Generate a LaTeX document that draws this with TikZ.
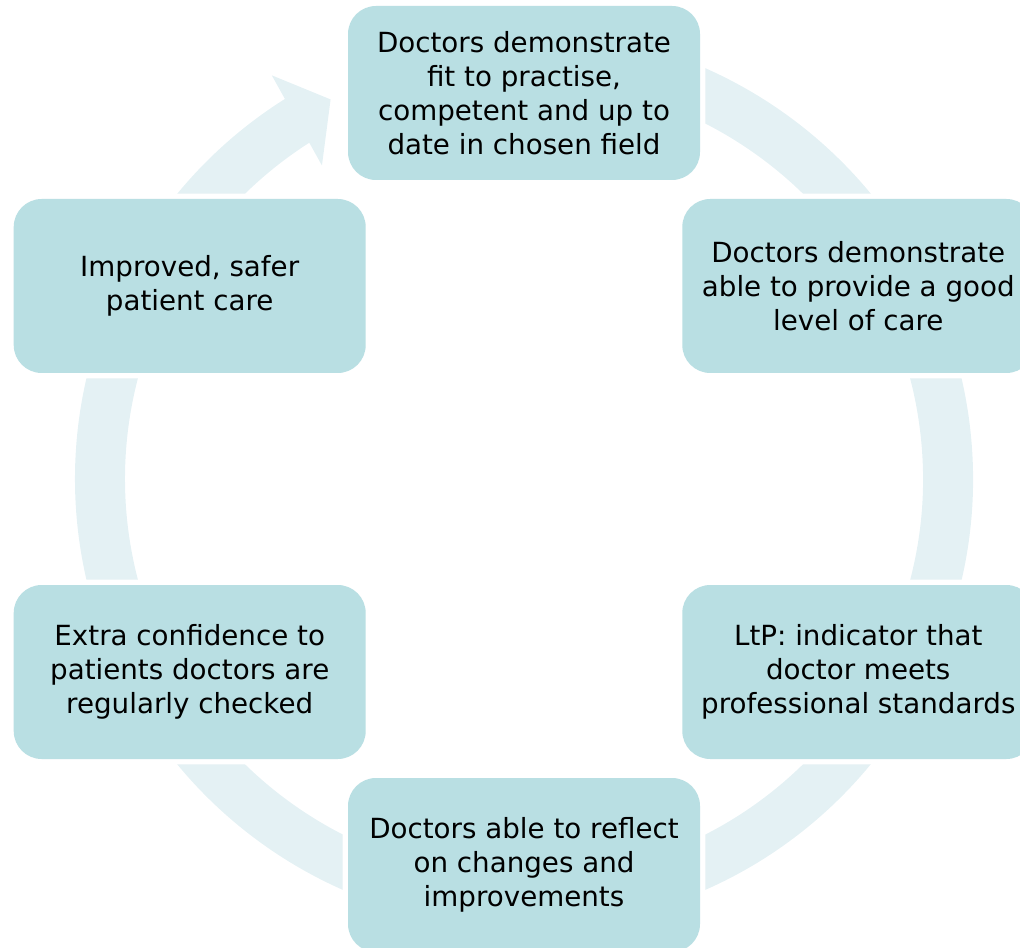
\documentclass[tikz,border=0pt]{standalone}
\usepackage{fontspec}
\setmainfont{DejaVu Sans}
\usetikzlibrary{calc}
\definecolor{Teal}{HTML}{B9DFE3}
\definecolor{Mist}{HTML}{E4F1F4}

\begin{document}
\begin{tikzpicture}[x=0.75pt,y=0.75pt,
  stage/.style={fill=Teal,rounded corners=21pt,minimum width=264pt,
                minimum height=130.5pt,inner sep=0pt,align=center,
                font=\fontsize{20.8}{25.5}\selectfont,
                preaction={draw=white,line width=8pt}},
  ring/.style={draw=Mist,line width=37.5pt}]
\useasboundingbox (0,0) rectangle (1020,947);
\clip (0,0) rectangle (1020,947);
\coordinate (c) at (524,468);
% cycle arrow running behind the stages
\draw[ring] ($(c)+(100:424)$) arc[start angle=100,end angle=-238.8,radius=424];
\fill[Mist] ($(c)+(122.8:373)$) -- ($(c)+(117:426)$) -- ($(c)+(122:476)$) -- cycle;
% the six stages, clockwise from the top
\node[stage] (fit) at ($(c)+(90:386)$)
  {Doctors demonstrate\\fit to practise,\\competent and up to\\date in chosen field};
\node[stage] (care) at ($(c)+(30:386)$)
  {Doctors demonstrate\\able to provide a good\\level of care};
\node[stage] (ltp) at ($(c)+(-30:386)$)
  {LtP: indicator that\\doctor meets\\professional standards};
\node[stage] (reflect) at ($(c)+(-90:386)$)
  {Doctors able to reflect\\on changes and\\improvements};
\node[stage] (confidence) at ($(c)+(-150:386)$)
  {Extra confidence to\\patients doctors are\\regularly checked};
\node[stage] (safer) at ($(c)+(150:386)$)
  {Improved, safer\\patient care};
\end{tikzpicture}
\end{document}
